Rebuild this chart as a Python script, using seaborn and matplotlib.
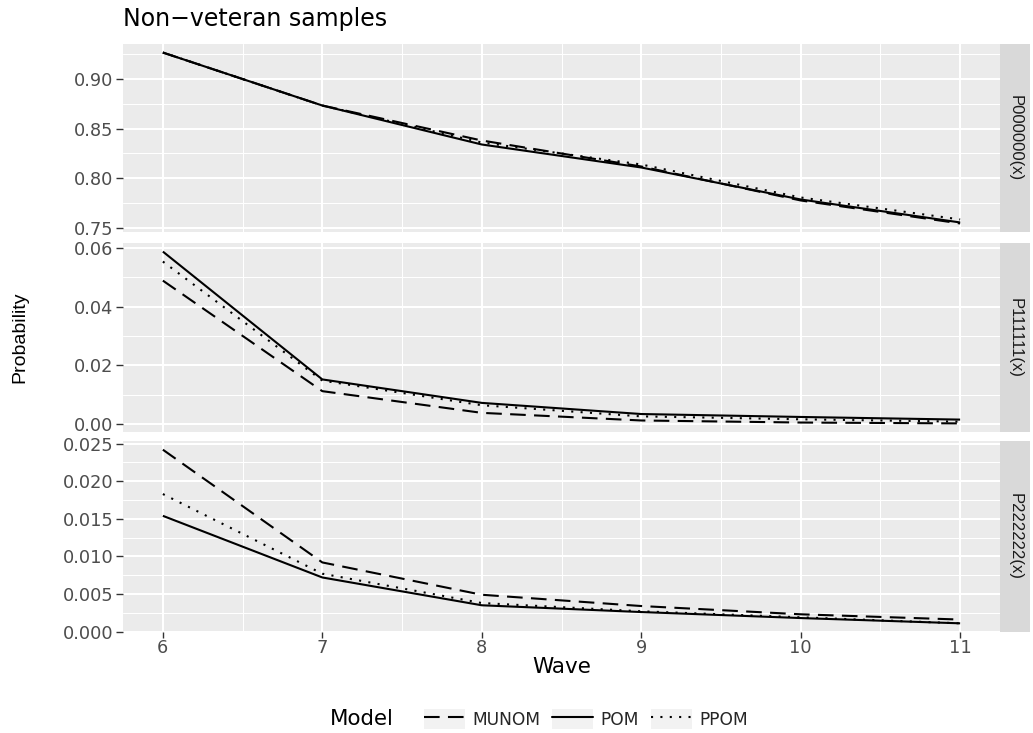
import numpy as np
import pandas as pd
import seaborn as sns
import matplotlib.pyplot as plt
from matplotlib.lines import Line2D
from matplotlib.patches import Rectangle
from matplotlib.legend_handler import HandlerTuple
from matplotlib.ticker import MultipleLocator

# ---- data -----------------------------------------------------------------
waves = [6, 7, 8, 9, 10, 11]
models = ["MUNOM", "POM", "PPOM"]
facets = ["P000000(x)", "P111111(x)", "P222222(x)"]

p000000_munom = [0.926, 0.873, 0.838, 0.812, 0.778, 0.755]
p000000_pom = [0.926, 0.873, 0.834, 0.811, 0.779, 0.756]
p000000_ppom = [0.926, 0.873, 0.836, 0.814, 0.781, 0.759]

p111111_munom = [0.0489, 0.0112, 0.0038, 0.0012, 0.0005, 0.0002]
p111111_pom = [0.0588, 0.0152, 0.0072, 0.0034, 0.0024, 0.0015]
p111111_ppom = [0.0554, 0.0148, 0.0064, 0.0026, 0.0016, 0.0008]

p222222_munom = [0.0242, 0.0092, 0.0049, 0.0034, 0.0023, 0.0016]
p222222_pom = [0.0154, 0.0072, 0.0035, 0.0026, 0.0018, 0.0011]
p222222_ppom = [0.0183, 0.0077, 0.0038, 0.0027, 0.0019, 0.0011]

y_breaks = {
    "P000000(x)": [0.75, 0.80, 0.85, 0.90],
    "P111111(x)": [0.00, 0.02, 0.04, 0.06],
    "P222222(x)": [0.000, 0.005, 0.010, 0.015, 0.020, 0.025],
}
y_labels = {
    "P000000(x)": ["0.75", "0.80", "0.85", "0.90"],
    "P111111(x)": ["0.00", "0.02", "0.04", "0.06"],
    "P222222(x)": ["0.000", "0.005", "0.010", "0.015", "0.020", "0.025"],
}

series = {
    ("P000000(x)", "MUNOM"): p000000_munom,
    ("P000000(x)", "POM"): p000000_pom,
    ("P000000(x)", "PPOM"): p000000_ppom,
    ("P111111(x)", "MUNOM"): p111111_munom,
    ("P111111(x)", "POM"): p111111_pom,
    ("P111111(x)", "PPOM"): p111111_ppom,
    ("P222222(x)", "MUNOM"): p222222_munom,
    ("P222222(x)", "POM"): p222222_pom,
    ("P222222(x)", "PPOM"): p222222_ppom,
}

rows = []
for (facet, model), vals in series.items():
    for w, v in zip(waves, vals):
        rows.append({"Facet": facet, "Model": model, "Wave": w, "Probability": v})
df = pd.DataFrame(rows)

# ---- style ----------------------------------------------------------------
sns.set_theme(style="darkgrid")
plt.rcParams["font.family"] = ["DejaVu Sans"]
ROT_FONT = ["Liberation Sans", "DejaVu Sans"]

PANEL_BG = "#EBEBEB"
STRIP_BG = "#D9D9D9"
TICK_TXT = "#4D4D4D"
TICK_LINE = "#333333"
LW = 1.5
TICK_FS = 12.8
dash_map = {"MUNOM": (7.5, 4.0), "POM": "", "PPOM": (1.0, 3.5)}

W, H = 1033, 733
fig = plt.figure(figsize=(W / 100, H / 100), dpi=100)
fig.patch.set_facecolor("white")

left_px, right_px = 123, 1000
panels_px = [(44, 232), (243, 432), (441, 632)]
strip_w = 30


def frac_box(x0, x1, y0, y1):
    return [x0 / W, 1 - y1 / H, (x1 - x0) / W, (y1 - y0) / H]


def expand(lo, hi, mult=0.05):
    r = hi - lo
    return lo - mult * r, hi + mult * r


axes = []
for i, facet in enumerate(facets):
    top, bot = panels_px[i]
    ax = fig.add_axes(frac_box(left_px, right_px, top, bot))
    axes.append(ax)
    sub = df[df["Facet"] == facet]
    sns.lineplot(
        data=sub, x="Wave", y="Probability", style="Model",
        style_order=models, dashes=dash_map, color="black",
        linewidth=LW, legend=False, ax=ax,
    )
    for ln in ax.get_lines():
        ln.set_dash_capstyle("butt")
        ln.set_solid_capstyle("butt")

    ax.set_facecolor(PANEL_BG)
    for s in ax.spines.values():
        s.set_visible(False)

    ax.set_xlim(*expand(min(waves), max(waves)))
    ax.set_ylim(*expand(sub["Probability"].min(), sub["Probability"].max()))

    ax.set_xticks(waves)
    ax.xaxis.set_minor_locator(MultipleLocator(0.5))
    ax.set_yticks(y_breaks[facet])
    ax.set_yticklabels(y_labels[facet])
    step = y_breaks[facet][1] - y_breaks[facet][0]
    ax.yaxis.set_minor_locator(MultipleLocator(step / 2))

    ax.grid(which="major", color="white", linewidth=1.5)
    ax.grid(which="minor", color="white", linewidth=0.75)
    ax.set_axisbelow(True)

    ax.tick_params(axis="y", which="major", left=True, length=5, width=1.0,
                   color=TICK_LINE, labelcolor=TICK_TXT, labelsize=TICK_FS, pad=2)
    ax.tick_params(axis="y", which="minor", left=False)
    ax.tick_params(axis="x", which="minor", bottom=False)
    if i < 2:
        ax.tick_params(axis="x", which="major", bottom=False, labelbottom=False)
    else:
        ax.tick_params(axis="x", which="major", bottom=True, length=4, width=1.0,
                       color=TICK_LINE, labelcolor=TICK_TXT, labelsize=TICK_FS, pad=1)
    ax.set_xlabel("")
    ax.set_ylabel("")

    # facet strip on the right
    sax = fig.add_axes(frac_box(right_px, right_px + strip_w, top, bot))
    sax.set_facecolor(STRIP_BG)
    sax.set_xticks([])
    sax.set_yticks([])
    for s in sax.spines.values():
        s.set_visible(False)
    sax.text(0.5, 0.5, facet, rotation=270, ha="center", va="center",
             fontsize=12, color="#1A1A1A", transform=sax.transAxes,
             family=ROT_FONT)

axes[2].set_xlabel("Wave", fontsize=15.5, color="black", labelpad=0)
fig.text(20 / W, 1 - 337 / H, "Probability", rotation=90, ha="center",
         va="center", fontsize=14, color="black", family=ROT_FONT)
fig.text(left_px / W, 1 - 19 / H, "Non\u2212veteran samples", ha="left",
         va="center", fontsize=17, color="black")

# ---- legend ---------------------------------------------------------------
handles = []
for m in models:
    bg = Rectangle((0, 0), 1, 1, facecolor="#F2F2F2", edgecolor="none")
    ln = Line2D([], [], color="black", linewidth=LW)
    if dash_map[m]:
        ln.set_dashes(dash_map[m])
    ln.set_dash_capstyle("butt")
    handles.append((bg, ln))

leg = fig.legend(
    handles, models, loc="center", bbox_to_anchor=(586 / W, 1 - 719 / H),
    ncol=3, frameon=False, fontsize=12.3, handlelength=2.4, handleheight=1.5,
    handletextpad=0.45, columnspacing=0.7,
    handler_map={tuple: HandlerTuple(ndivide=1, pad=0)},
)
fig.text(330 / W, 1 - 719 / H, "Model", ha="left", va="center",
         fontsize=15.4, color="black")

fig.savefig("out.png", dpi=100)
